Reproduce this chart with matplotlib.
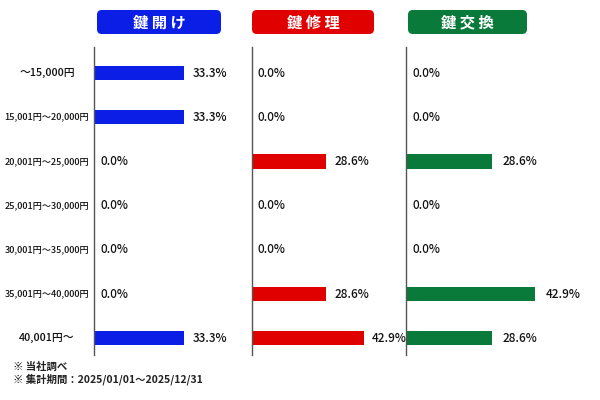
import matplotlib
matplotlib.use('Agg')
import matplotlib.pyplot as plt
from matplotlib.patches import FancyBboxPatch

plt.rcParams['font.family'] = ['Noto Sans CJK JP', 'DejaVu Sans']

price_ranges = ['～15,000円', '15,001円～20,000円', '20,001円～25,000円', '25,001円～30,000円',
                '30,001円～35,000円', '35,001円～40,000円', '40,001円～']
services = ['鍵開け', '鍵修理', '鍵交換']
kagiake = [33.3, 33.3, 0.0, 0.0, 0.0, 0.0, 33.3]
kagishuri = [0.0, 0.0, 28.6, 0.0, 0.0, 28.6, 42.9]
kagikoukan = [0.0, 0.0, 28.6, 0.0, 0.0, 42.9, 28.6]
notes = ['※ 当社調べ', '※ 集計期間：2025/01/01～2025/12/31']

series = [kagiake, kagishuri, kagikoukan]
colors = ['#0a1ee6', '#e00000', '#0a7a3a']

W, H = 600, 400
fig = plt.figure(figsize=(6, 4), dpi=100)

# panel layout in pixels (left edge, x range over 150px) and header boxes
panel_left = [94, 252, 406]
panel_xmax = [55.6, 57.7, 49.7]
header_box = [(97, 221), (252, 374), (408, 527)]
ax_top, ax_bot = 47, 355

for k in range(3):
    ax = fig.add_axes([panel_left[k] / W, 1 - ax_bot / H, 150 / W, (ax_bot - ax_top) / H])
    y = list(range(len(price_ranges)))
    ax.barh(y, series[k], height=0.32, color=colors[k])
    ax.set_xlim(0, panel_xmax[k])
    ax.set_ylim(6.38, -0.59)
    for s in ['top', 'right', 'bottom']:
        ax.spines[s].set_visible(False)
    ax.spines['left'].set_color('#555555')
    ax.spines['left'].set_linewidth(1.0)
    ax.set_xticks([])
    ax.set_yticks([])
    ax.patch.set_alpha(0)
    for i, v in enumerate(series[k]):
        off = 3.3 if v > 0 else 2.3
        ax.text(v + off, i, f'{v:.1f}%', va='center', ha='left', fontsize=8.5,
                fontweight='medium', color='#111111')

    x0, x1 = header_box[k]
    box = FancyBboxPatch((x0 / W, 1 - 34 / H), (x1 - x0) / W, 24 / H,
                         boxstyle='round,pad=0,rounding_size=0.008', mutation_aspect=1.5,
                         transform=fig.transFigure, facecolor=colors[k], edgecolor='none')
    fig.patches.append(box)
    fig.text((x0 + x1) / 2 / W, 1 - 22.5 / H, ' '.join(services[k]), ha='center', va='center',
             color='white', fontsize=11, fontweight='bold')

# category labels
row_y = [73 + 44.2 * i for i in range(len(price_ranges))]
for i, lab in enumerate(price_ranges):
    fs = 7.8 if i in (0, len(price_ranges) - 1) else 6.6
    fig.text(47 / W, 1 - row_y[i] / H, lab, ha='center', va='center', fontsize=fs,
             fontweight='medium', color='#111111')

fig.text(13 / W, 1 - 367 / H, notes[0], ha='left', va='center', fontsize=7.5,
         fontweight='bold', color='#222222')
fig.text(13 / W, 1 - 379 / H, notes[1], ha='left', va='center', fontsize=7.5,
         fontweight='bold', color='#222222')

fig.savefig('out.png', dpi=100, facecolor='white')
